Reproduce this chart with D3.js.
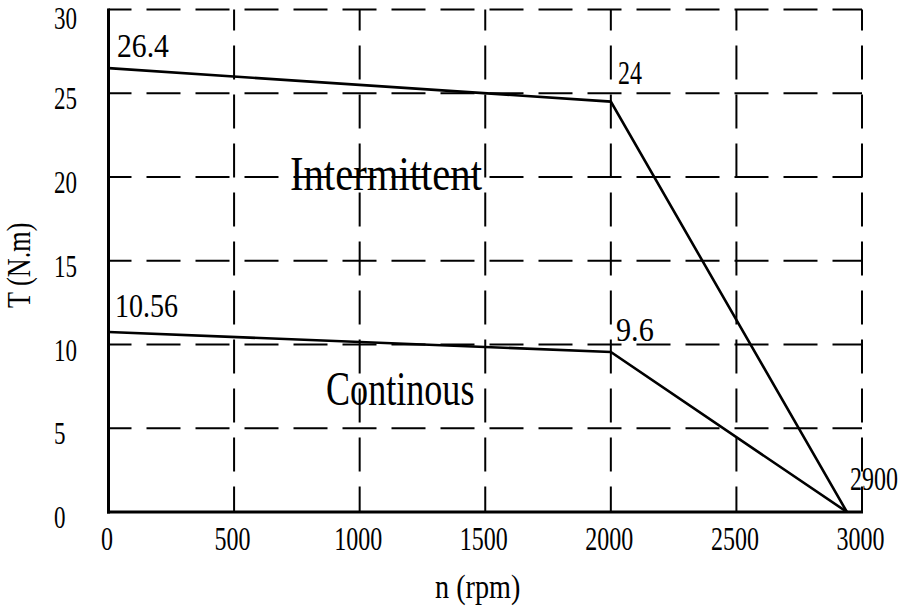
<!DOCTYPE html>
<html><head><meta charset="utf-8">
<script src="https://cdn.jsdelivr.net/npm/d3@7"></script>
<style>html,body{margin:0;padding:0;background:#fff;}svg{display:block;}</style>
</head><body>
<svg id="c" width="900" height="610"></svg>
<script>
// Data
const xTicks = [0, 500, 1000, 1500, 2000, 2500, 3000];
const yTicks = [0, 5, 10, 15, 20, 25, 30];
const intermittentRpm = [0, 2000, 2940];
const intermittentTorque = [26.5, 24.5, 0];
const continuousRpm = [0, 2000, 2940];
const continuousTorque = [10.75, 9.55, 0];
const pointLabels = ["26.4", "24", "2900", "10.56", "9.6"];
const regionLabels = ["Intermittent", "Continous"];
const xTitle = "n (rpm)";
const yTitle = "T (N.m)";

const svg = d3.select("#c");
const FONT = "'Liberation Serif', 'DejaVu Serif', serif";
const x = d3.scaleLinear().domain([0, 3000]).range([108.5, 862]);
const y = d3.scaleLinear().domain([0, 30]).range([512, 9.5]);

function txt(g, s, x0, yb, cw, fs, rot) {
  const t = g.append("text").text(s)
    .attr("font-family", FONT).attr("font-size", fs).attr("fill", "#000")
    .attr("x", 0).attr("y", 0);
  const w = t.node().getComputedTextLength() || 1;
  const sx = (s.length * cw) / w;
  t.attr("transform", `translate(${x0},${yb})${rot ? " rotate(-90)" : ""} scale(${sx},1)`);
  return t;
}

// Grid
const grid = svg.append("g").attr("stroke", "#000").attr("stroke-width", 2)
  .attr("stroke-dasharray", "34,15").attr("fill", "none");
yTicks.filter(d => d > 0).forEach(d => {
  grid.append("line").attr("x1", x(0)).attr("x2", x(3000)).attr("y1", y(d)).attr("y2", y(d))
    .attr("stroke-dashoffset", 11);
});
xTicks.filter(d => d > 0).forEach(d => {
  grid.append("line").attr("x1", x(d)).attr("x2", x(d)).attr("y1", y(30)).attr("y2", y(0))
    .attr("stroke-dashoffset", 13);
});

// Axes
svg.append("line").attr("x1", x(0)).attr("x2", x(0)).attr("y1", y(30) - 1).attr("y2", y(0) + 1.5)
  .attr("stroke", "#000").attr("stroke-width", 3);
svg.append("line").attr("x1", x(0) - 1.5).attr("x2", x(3000) + 1).attr("y1", y(0)).attr("y2", y(0))
  .attr("stroke", "#000").attr("stroke-width", 3);

// Tick labels
const tl = svg.append("g");
const yFs = 32;
yTicks.forEach(d => txt(tl, String(d), 54, Math.max(y(d) + 16, yFs * 0.9), 11.5, yFs));
xTicks.forEach(d => {
  const s = String(d), w = s.length * 12;
  txt(tl, s, x(d) - 1.5 - w / 2, 550, 12, 34);
});

// Lines
const line = d3.line().x(d => x(d[0])).y(d => y(d[1]));
svg.append("path").datum(intermittentRpm.map((r, i) => [r, intermittentTorque[i]]))
  .attr("d", line).attr("fill", "none").attr("stroke", "#000").attr("stroke-width", 2.6);
svg.append("path").datum(continuousRpm.map((r, i) => [r, continuousTorque[i]]))
  .attr("d", line).attr("fill", "none").attr("stroke", "#000").attr("stroke-width", 2.6);

// Annotations
const an = svg.append("g");
txt(an, pointLabels[0], 117, 57, 13, 34);
txt(an, pointLabels[1], 618, 84, 12, 34);
txt(an, pointLabels[2], 850, 490, 12, 34);
txt(an, pointLabels[3], 115, 317, 12.6, 34);
txt(an, pointLabels[4], 616, 341, 12.6, 34);
txt(an, regionLabels[0], 290, 190, 16, 49);
txt(an, regionLabels[1], 326, 405, 16.5, 49);

// Titles
txt(an, xTitle, 435, 598, 12.2, 34);
txt(an, yTitle, 30, 308, 12.2, 34, true);
</script>
</body></html>
